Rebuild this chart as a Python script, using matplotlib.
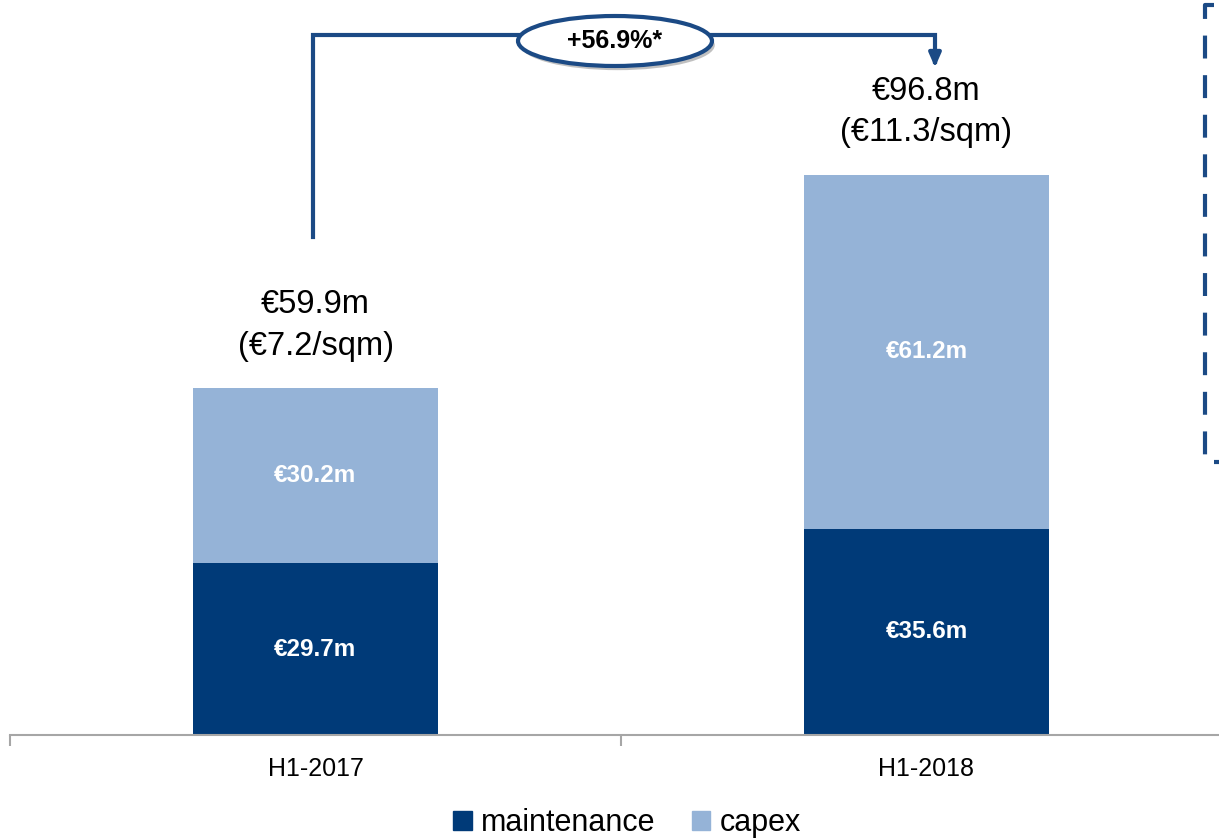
import matplotlib.pyplot as plt
from matplotlib.patches import Ellipse, Patch
from matplotlib.lines import Line2D
import matplotlib.patheffects as pe

# data
periods = ["H1-2017", "H1-2018"]
maintenance = [29.7, 35.6]
capex = [30.2, 61.2]
totals = [59.9, 96.8]
per_sqm = [7.2, 11.3]
growth_label = "+56.9%*"

c_maint = "#003A78"
c_capex = "#95B3D7"
c_line = "#1B4A85"

plt.rcParams['font.family'] = ['Liberation Sans', 'DejaVu Sans']

W, H = 1219, 839
fig = plt.figure(figsize=(W / 100, H / 100), dpi=100)

# axes placed in pixel terms: axis line at y=735, left edge x=10
ax = fig.add_axes([10 / W, 104 / H, 1209 / W, 735 / H])
px_per_cat = 611
px_per_unit = 5.79

x = range(len(periods))
ax.bar(x, maintenance, width=0.4, color=c_maint, zorder=2)
ax.bar(x, capex, width=0.4, bottom=maintenance, color=c_capex, zorder=2)

for i in x:
    ax.text(i, maintenance[i] / 2, f"€{maintenance[i]}m", ha="center", va="center",
            color="white", fontsize=17.5, fontweight="bold")
    ax.text(i, maintenance[i] + capex[i] / 2, f"€{capex[i]}m", ha="center", va="center",
            color="white", fontsize=17.5, fontweight="bold")
    ax.text(i, totals[i] + 4.6, f"€{totals[i]}m\n(€{per_sqm[i]}/sqm)", ha="center",
            va="bottom", fontsize=23.5, linespacing=1.42)

# axis styling
for s in ["top", "right", "left"]:
    ax.spines[s].set_visible(False)
ax.spines["bottom"].set_color("#A6A6A6")
ax.spines["bottom"].set_linewidth(1.5)
ax.set_yticks([])
ax.set_xticks(list(x))
ax.set_xticklabels(periods, fontsize=18)
ax.tick_params(axis="x", length=0, pad=16)
ax.set_xticks([-0.5, 0.5, 1.5], minor=True)
ax.tick_params(axis="x", which="minor", length=8, color="#A6A6A6", width=1.5)
# limits last, set_xticks would widen them otherwise
ax.set_xlim(-0.5, -0.5 + 1209 / px_per_cat)
ax.set_ylim(0, 735 / px_per_unit)


def px(xp, yp):
    # pixel position in the picture -> data coords
    return (xp - 10) / px_per_cat - 0.5, (735 - yp) / px_per_unit


# growth bracket
x0, y0 = px(313, 237)
x1, ytop = px(313, 35)
x2, yend = px(935, 62)
ax.plot([x0, x1, x2, x2], [y0, ytop, ytop, yend], color=c_line, lw=3,
        clip_on=False, zorder=3, solid_joinstyle="miter")
ax.annotate("", xy=px(935, 70), xytext=px(935, 55),
            arrowprops=dict(arrowstyle="-|>,head_width=0.35,head_length=0.8",
                            color=c_line, lw=3), annotation_clip=False)
ecx, ecy = px(615, 41)
ell = Ellipse((ecx, ecy), 194 / px_per_cat, 50 / px_per_unit, facecolor="white",
              edgecolor=c_line, lw=3, zorder=4, clip_on=False,
              path_effects=[pe.SimplePatchShadow(offset=(2, -3), alpha=0.35), pe.Normal()])
ax.add_patch(ell)
ax.text(ecx, ecy, growth_label, ha="center", va="center", fontsize=18,
        fontweight="bold", zorder=5)

# dashed box edge on the right
bx, btop = px(1205, 5)
_, bbot = px(1205, 462)
ax.add_line(Line2D([px(1214, 0)[0], bx, bx, px(1219, 0)[0]], [btop, btop, bbot, bbot],
                   color=c_line, lw=3, linestyle=(0, (5.5, 4)), clip_on=False))

# legend
handles = [Patch(color=c_maint, label="maintenance"), Patch(color=c_capex, label="capex")]
fig.legend(handles=handles, loc="center", bbox_to_anchor=(627 / W, 1 - 823 / H), ncol=2,
           frameon=False, fontsize=22, handlelength=0.6, handleheight=0.6,
           handletextpad=0.3, columnspacing=1.2)

fig.savefig("out.png", dpi=100)
